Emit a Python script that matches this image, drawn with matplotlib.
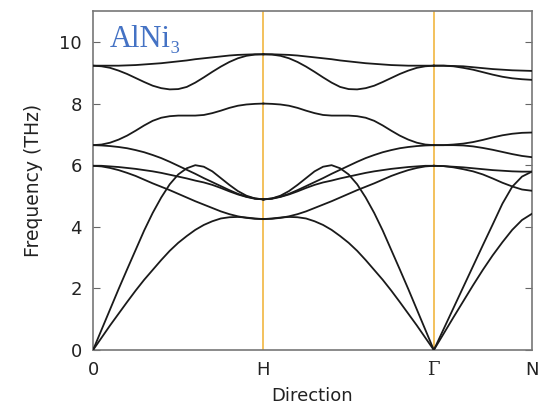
import numpy as np
import matplotlib
matplotlib.use("Agg")
import matplotlib.pyplot as plt

plt.rcParams["mathtext.fontset"] = "dejavuserif"

# high-symmetry points along the path
tick_pos = [0.0, 1.0, 2.0, 2.575]
tick_labels = ["0", "H", r"$\Gamma$", "N"]

# segment 0 -> H (21 samples), frequencies in THz
seg1_bands = [
    [0, 0.66, 1.32, 1.98, 2.62, 3.25, 3.88, 4.45, 4.95, 5.38, 5.7, 5.9, 6.0,
     5.95, 5.8, 5.58, 5.36, 5.16, 5.01, 4.92, 4.89],
    [0, 0.4, 0.8, 1.18, 1.56, 1.93, 2.28, 2.6, 2.92, 3.22, 3.48, 3.7, 3.9,
     4.06, 4.18, 4.27, 4.31, 4.32, 4.3, 4.27, 4.25],
    [5.98, 5.96, 5.91, 5.84, 5.75, 5.65, 5.53, 5.41, 5.3, 5.19, 5.07, 4.95,
     4.83, 4.72, 4.61, 4.5, 4.41, 4.34, 4.29, 4.26, 4.25],
    [5.98, 5.98, 5.96, 5.94, 5.91, 5.88, 5.84, 5.8, 5.75, 5.69, 5.63, 5.57,
     5.5, 5.44, 5.36, 5.26, 5.15, 5.05, 4.97, 4.91, 4.89],
    [6.65, 6.64, 6.62, 6.59, 6.55, 6.49, 6.42, 6.33, 6.23, 6.11, 5.98, 5.85,
     5.72, 5.58, 5.45, 5.32, 5.19, 5.07, 4.98, 4.92, 4.89],
    [6.65, 6.67, 6.73, 6.83, 6.96, 7.12, 7.29, 7.44, 7.54, 7.59, 7.61, 7.61,
     7.61, 7.63, 7.69, 7.77, 7.86, 7.93, 7.97, 7.99, 8.0],
    [9.23, 9.21, 9.16, 9.07, 8.96, 8.83, 8.7, 8.58, 8.5, 8.46, 8.47, 8.54,
     8.68, 8.85, 9.03, 9.2, 9.35, 9.47, 9.55, 9.59, 9.6],
    [9.23, 9.23, 9.23, 9.23, 9.24, 9.25, 9.27, 9.29, 9.31, 9.34, 9.37, 9.4,
     9.44, 9.47, 9.5, 9.53, 9.56, 9.58, 9.59, 9.6, 9.6],
]

# segment H -> Gamma (21 samples)
seg2_bands = [
    [4.89, 4.92, 5.01, 5.16, 5.36, 5.58, 5.8, 5.95, 6.0, 5.9, 5.7, 5.38,
     4.95, 4.45, 3.88, 3.25, 2.62, 1.98, 1.32, 0.66, 0],
    [4.25, 4.27, 4.3, 4.32, 4.31, 4.27, 4.18, 4.06, 3.9, 3.7, 3.48, 3.22,
     2.92, 2.6, 2.28, 1.93, 1.56, 1.18, 0.8, 0.4, 0],
    [4.25, 4.26, 4.29, 4.34, 4.41, 4.5, 4.61, 4.72, 4.83, 4.95, 5.07, 5.19,
     5.3, 5.41, 5.53, 5.65, 5.75, 5.84, 5.91, 5.96, 5.98],
    [4.89, 4.91, 4.97, 5.05, 5.15, 5.26, 5.36, 5.44, 5.5, 5.57, 5.63, 5.69,
     5.75, 5.8, 5.84, 5.88, 5.91, 5.94, 5.96, 5.98, 5.98],
    [4.89, 4.92, 4.98, 5.07, 5.19, 5.32, 5.45, 5.58, 5.72, 5.85, 5.98, 6.11,
     6.23, 6.33, 6.42, 6.49, 6.55, 6.59, 6.62, 6.64, 6.65],
    [8.0, 7.99, 7.97, 7.93, 7.86, 7.77, 7.69, 7.63, 7.61, 7.61, 7.61, 7.59,
     7.54, 7.44, 7.29, 7.12, 6.96, 6.83, 6.73, 6.67, 6.65],
    [9.6, 9.59, 9.55, 9.47, 9.35, 9.2, 9.03, 8.85, 8.68, 8.54, 8.47, 8.46,
     8.5, 8.58, 8.7, 8.83, 8.96, 9.07, 9.16, 9.21, 9.23],
    [9.6, 9.6, 9.59, 9.58, 9.56, 9.53, 9.5, 9.47, 9.44, 9.4, 9.37, 9.34,
     9.31, 9.29, 9.27, 9.25, 9.24, 9.23, 9.23, 9.23, 9.23],
]

# segment Gamma -> N (11 samples)
seg3_bands = [
    [0, 0.68, 1.36, 2.04, 2.72, 3.4, 4.07, 4.75, 5.3, 5.63, 5.79],
    [0, 0.53, 1.06, 1.58, 2.1, 2.6, 3.07, 3.5, 3.9, 4.22, 4.42],
    [5.98, 5.97, 5.95, 5.93, 5.9, 5.87, 5.84, 5.82, 5.8, 5.79, 5.79],
    [5.98, 5.97, 5.93, 5.87, 5.8, 5.7, 5.57, 5.43, 5.31, 5.21, 5.17],
    [6.65, 6.65, 6.67, 6.7, 6.75, 6.82, 6.9, 6.97, 7.02, 7.05, 7.06],
    [6.65, 6.65, 6.65, 6.64, 6.61, 6.56, 6.5, 6.43, 6.36, 6.3, 6.26],
    [9.23, 9.23, 9.22, 9.21, 9.18, 9.15, 9.12, 9.1, 9.08, 9.07, 9.06],
    [9.23, 9.23, 9.21, 9.16, 9.1, 9.02, 8.94, 8.87, 8.82, 8.79, 8.77],
]

segments = [
    (tick_pos[0], tick_pos[1], seg1_bands),
    (tick_pos[1], tick_pos[2], seg2_bands),
    (tick_pos[2], tick_pos[3], seg3_bands),
]

fig = plt.figure(figsize=(5.41, 4.13), dpi=100)
ax = fig.add_axes([0.172, 0.1525, 0.811, 0.8205])

for x0, x1, bands in segments:
    for band in bands:
        k = np.linspace(x0, x1, len(band))
        ax.plot(k, band, color="#1a1a1a", lw=1.3, zorder=3)

for xv in tick_pos[1:3]:
    ax.axvline(xv, color="#f0b030", lw=1.1, zorder=2)

ax.set_xlim(tick_pos[0], tick_pos[-1])
ax.set_ylim(0, 11)
ax.set_xticks(tick_pos)
ax.set_xticklabels(tick_labels)
ax.set_yticks([0, 2, 4, 6, 8, 10])
ax.tick_params(axis="x", length=0, pad=8, labelsize=13, colors="#222222")
ax.tick_params(axis="y", direction="in", length=5, right=True,
               labelsize=13, pad=8, colors="#666666", labelcolor="#222222")
for s in ax.spines.values():
    s.set_color("#777777")
    s.set_linewidth(1.2)

ax.set_xlabel("Direction", fontsize=13, color="#222222", labelpad=6)
ax.set_ylabel("Frequency (THz)", fontsize=13.5, color="#222222", labelpad=12)

ax.text(0.037, 0.96, "AlNi\u2083", transform=ax.transAxes, ha="left", va="top",
        fontsize=22, color="#4472c4", family=["Liberation Serif", "DejaVu Serif"])

fig.savefig("out.png", dpi=100)
